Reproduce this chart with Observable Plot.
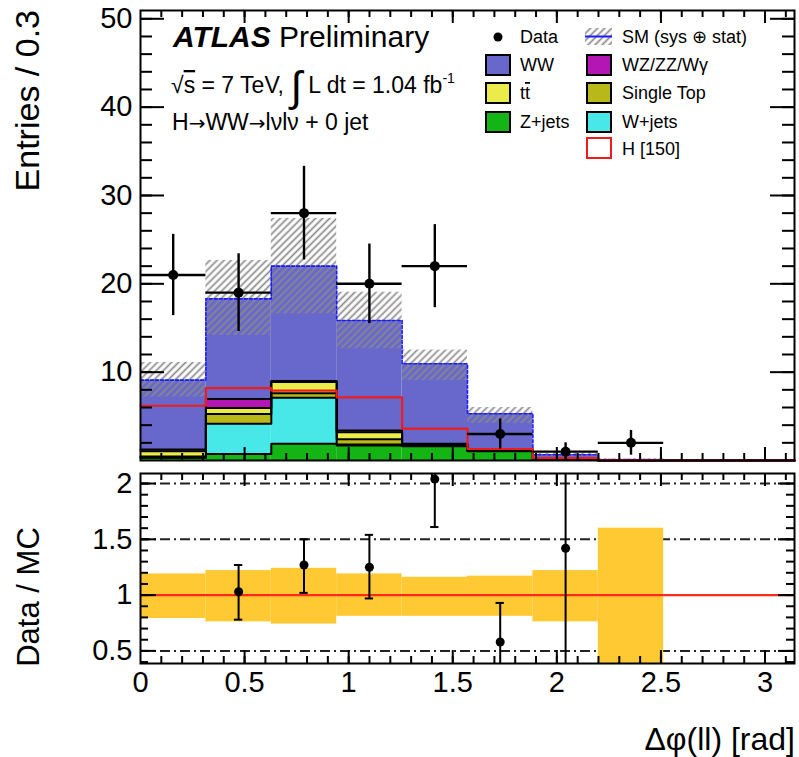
<!DOCTYPE html>
<html><head><meta charset="utf-8">
<script src="https://cdn.jsdelivr.net/npm/d3@7"></script>
<script src="https://cdn.jsdelivr.net/npm/@observablehq/plot@0.6"></script>
<style>
body{margin:0;background:#fff;}
#wrap{position:relative;width:799px;height:757px;overflow:hidden;font-family:"Liberation Sans",Arial,sans-serif;}
#wrap > svg, #wrap > div{position:absolute;left:0;}
</style></head><body><div id="wrap"></div>
<script>
// ---- data ----
const nBins = 10;                        // 10 bins of width pi/10 over [0, pi]
const zjets     = [0.3, 0.75, 1.9, 1.7, 1.6, 1.05, 0.1, 0, 0, 0];
const wjets     = [0.05, 3.4, 5.2, 0.1, 0.05, 0.05, 0, 0, 0, 0];
const singleTop = [0.1, 1.1, 0.5, 0.6, 0.05, 0.05, 0, 0, 0, 0];
const ttbar     = [0.6, 0.7, 1.3, 0.8, 0.1, 0.05, 0, 0, 0, 0];
const diboson   = [0.2, 1.0, 0.1, 0.2, 0.1, 0.05, 0, 0, 0, 0];
const ww        = [7.85, 11.35, 13.0, 12.45, 9.05, 4.05, 0.55, 0.1, 0, 0];
const higgs150  = [6.2, 8.2, 7.9, 7.15, 3.6, 1.3, 0.26, 0.02, 0, 0];
const smLow     = [7.2, 14.15, 16.6, 12.65, 9.05, 4.2, 0.45, 0.04, 0, 0];
const smHigh    = [11.1, 22.65, 27.4, 19.05, 12.5, 6.0, 0.85, 0.16, 0, 0];
const dataCounts= [21, 19, 28, 20, 22, 3, 1, 2, 0, 0];
const dataErr   = [4.6, 4.4, 5.3, 4.5, 4.7, 1.7, 1.0, 1.4, 0, 0];
const ratio     = [null, 1.03, 1.27, 1.25, 2.04, 0.58, 1.42, null, null, null];
const ratioLow  = [null, 0.78, 1.02, 0.97, 1.61, 0.25, 0.0, null, null, null];
const ratioHigh = [null, 1.27, 1.50, 1.54, 2.50, 0.93, 2.85, null, null, null];
const bandLow   = [0.79, 0.76, 0.74, 0.81, 0.81, 0.81, 0.76, 0.2, null, null];
const bandHigh  = [1.19, 1.22, 1.24, 1.19, 1.16, 1.17, 1.22, 1.60, null, null];
const procNames = ["Z+jets", "W+jets", "Single Top", "ttbar", "WZ/ZZ/Wγ", "WW"];
const procColors= ["#14b414", "#48e8e8", "#b8b818", "#ebeb4a", "#b316b3", "#6868cc"];
const yTicksTop = [10, 20, 30, 40, 50];
const yTicksRatio = [0.5, 1, 1.5, 2];
const xTicks = [0, 0.5, 1, 1.5, 2, 2.5, 3];

// ---- derived ----
const bw = Math.PI / nBins;
const bins = d3.range(nBins).map(i => ({i, x1: i * bw, x2: (i + 1) * bw, xc: (i + 0.5) * bw}));
const procVals = [zjets, wjets, singleTop, ttbar, diboson, ww];
function stepRows(vals, key) {
  const r = vals.map((v, i) => ({x: bins[i].x1, y: v, key}));
  r.push({x: Math.PI, y: vals[vals.length - 1], key});
  return r;
}
let cum = new Array(nBins).fill(0);
const rectRows = [], outlineRows = [];
let totalRows = [];
procVals.forEach((vals, k) => {
  const prev = cum.slice();
  cum = cum.map((c, i) => c + vals[i]);
  vals.forEach((v, i) => { if (v > 0) rectRows.push({x1: bins[i].x1, x2: bins[i].x2, y1: prev[i], y2: cum[i], color: procColors[k]}); });
  if (procNames[k] !== "WW") outlineRows.push(...stepRows(cum, procNames[k]));
  else totalRows = stepRows(cum, "total");
});
const hatchRows = bins.filter(b => smHigh[b.i] > 0).map(b => ({...b, lo: smLow[b.i], hi: smHigh[b.i]}));
const dataRows = bins.filter(b => dataCounts[b.i] > 0).map(b => ({...b, v: dataCounts[b.i], e: dataErr[b.i]}));
const ratioRows = bins.filter(b => ratio[b.i] != null).map(b => ({...b, v: ratio[b.i], lo: ratioLow[b.i], hi: ratioHigh[b.i]}));
const bandRows = bins.filter(b => bandLow[b.i] != null).map(b => ({...b, lo: bandLow[b.i], hi: bandHigh[b.i]}));

const W = 799, mL = 140, mR = 5;
const innerW = W - mL - mR;
const font = "Liberation Sans, Arial, sans-serif";
const xMinor = d3.range(1, 32).map(i => i / 10);
const xMajor = [0.5, 1, 1.5, 2, 2.5, 3];
const fmt = d => String(d);

function addHatch(svg, id) {
  const defs = d3.select(svg).insert("defs", ":first-child");
  const p = defs.append("pattern").attr("id", id).attr("patternUnits", "userSpaceOnUse")
    .attr("width", 5).attr("height", 5).attr("patternTransform", "rotate(45)");
  p.append("line").attr("x1", 2.5).attr("y1", 0).attr("x2", 2.5).attr("y2", 5)
    .attr("stroke", "#8a8a8a").attr("stroke-width", 1.7);
}

// ---- top panel ----
const topH = 470, topMT = 10, topMB = 10, topInner = topH - topMT - topMB;
const topPlot = Plot.plot({
  width: W, height: topH, marginLeft: mL, marginRight: mR, marginTop: topMT, marginBottom: topMB,
  x: {domain: [0, Math.PI], axis: null},
  y: {domain: [0, 50.94], axis: null, label: null},
  style: {fontFamily: font, background: "transparent", overflow: "visible", color: "black"},
  marks: [
    Plot.rect(rectRows, {x1: "x1", x2: "x2", y1: "y1", y2: "y2", fill: "color"}),
    Plot.line(outlineRows, {x: "x", y: "y", z: "key", curve: "step-after", stroke: "black", strokeWidth: 2}),
    Plot.rect(hatchRows, {x1: "x1", x2: "x2", y1: "lo", y2: "hi", fill: "url(#hatchTop)"}),
    Plot.line(totalRows, {x: "x", y: "y", curve: "step-after", stroke: "#1a1aff", strokeWidth: 1.6, strokeDasharray: "3,2"}),
    Plot.line(stepRows(higgs150, "H"), {x: "x", y: "y", curve: "step-after", stroke: "#ee1c1c", strokeWidth: 2.2}),
    Plot.ruleX(dataRows, {x: "xc", y1: d => d.v - d.e, y2: d => d.v + d.e, stroke: "black", strokeWidth: 2.4, clip: true}),
    Plot.ruleY(dataRows, {y: "v", x1: "x1", x2: "x2", stroke: "black", strokeWidth: 2.4}),
    Plot.dot(dataRows, {x: "xc", y: "v", r: 5, fill: "black"}),
    // ticks (inward, all four sides)
    Plot.ruleY(d3.range(2, 51, 2), {insetRight: innerW - 12, stroke: "black", strokeWidth: 2}),
    Plot.ruleY(yTicksTop, {insetRight: innerW - 24, stroke: "black", strokeWidth: 2}),
    Plot.ruleY(d3.range(2, 51, 2), {insetLeft: innerW - 12, stroke: "black", strokeWidth: 2}),
    Plot.ruleY(yTicksTop, {insetLeft: innerW - 24, stroke: "black", strokeWidth: 2}),
    Plot.ruleX(xMinor, {insetTop: topInner - 7, stroke: "black", strokeWidth: 2}),
    Plot.ruleX(xMajor, {insetTop: topInner - 13, stroke: "black", strokeWidth: 2}),
    Plot.ruleX(xMinor, {insetBottom: topInner - 7, stroke: "black", strokeWidth: 2}),
    Plot.ruleX(xMajor, {insetBottom: topInner - 13, stroke: "black", strokeWidth: 2}),
    Plot.frame({stroke: "black", strokeWidth: 2}),
    Plot.axisY(yTicksTop, {anchor: "left", tickSize: 0, tickPadding: 8, fontSize: 29, label: null, tickFormat: fmt})
  ]
});
addHatch(topPlot, "hatchTop");
topPlot.style.top = "0px";

// ---- ratio panel ----
const rTop = 470, rH = 287, rMT = 3, rMB = 94, rInner = rH - rMT - rMB;
const ratioPlot = Plot.plot({
  width: W, height: rH, marginLeft: mL, marginRight: mR, marginTop: rMT, marginBottom: rMB,
  x: {domain: [0, Math.PI], axis: null},
  y: {domain: [0.387, 2.09], axis: null, label: null},
  style: {fontFamily: font, background: "transparent", overflow: "visible", color: "black"},
  marks: [
    Plot.ruleY([0.5, 1.5, 2], {stroke: "#222", strokeWidth: 2, strokeDasharray: "10,4,2,4"}),
    Plot.rect(bandRows, {x1: "x1", x2: "x2", y1: "lo", y2: "hi", fill: "#ffc933", clip: true}),
    Plot.ruleY([1], {stroke: "#ff2a1a", strokeWidth: 2.2}),
    Plot.ruleX(ratioRows, {x: "xc", y1: "lo", y2: "hi", stroke: "black", strokeWidth: 2, clip: true}),
    Plot.ruleY(ratioRows, {y: "lo", x1: d => d.xc - 0.02, x2: d => d.xc + 0.02, stroke: "black", strokeWidth: 2, clip: true}),
    Plot.ruleY(ratioRows, {y: "hi", x1: d => d.xc - 0.02, x2: d => d.xc + 0.02, stroke: "black", strokeWidth: 2, clip: true}),
    Plot.dot(ratioRows, {x: "xc", y: "v", r: 4.5, fill: "black", clip: true}),
    Plot.ruleY(d3.range(4, 21).map(i => i / 10), {insetRight: innerW - 8, stroke: "black", strokeWidth: 2}),
    Plot.ruleY(yTicksRatio, {insetRight: innerW - 16, stroke: "black", strokeWidth: 2}),
    Plot.ruleY(d3.range(4, 21).map(i => i / 10), {insetLeft: innerW - 8, stroke: "black", strokeWidth: 2}),
    Plot.ruleY(yTicksRatio, {insetLeft: innerW - 16, stroke: "black", strokeWidth: 2}),
    Plot.ruleX(xMinor, {insetTop: rInner - 7, stroke: "black", strokeWidth: 2}),
    Plot.ruleX(xMajor, {insetTop: rInner - 13, stroke: "black", strokeWidth: 2}),
    Plot.ruleX(xMinor, {insetBottom: rInner - 7, stroke: "black", strokeWidth: 2}),
    Plot.ruleX(xMajor, {insetBottom: rInner - 13, stroke: "black", strokeWidth: 2}),
    Plot.frame({stroke: "black", strokeWidth: 2}),
    Plot.axisY(yTicksRatio, {anchor: "left", tickSize: 0, tickPadding: 8, fontSize: 29, label: null, tickFormat: fmt}),
    Plot.axisX(xTicks, {anchor: "bottom", tickSize: 0, tickPadding: 8, fontSize: 29, label: null, tickFormat: fmt})
  ]
});
ratioPlot.style.top = rTop + "px";

const wrap = document.getElementById("wrap");
wrap.appendChild(topPlot);
wrap.appendChild(ratioPlot);

// ---- overlay: titles, labels, legend ----
const arrow = `<tspan font-family="DejaVu Sans" font-size="20">→</tspan>`;
const ov = `
<svg width="799" height="757" style="position:absolute;left:0;top:0;pointer-events:none;font-family:${font}">
<defs><pattern id="hatchLeg" patternUnits="userSpaceOnUse" width="5" height="5" patternTransform="rotate(45)">
<line x1="2.5" y1="0" x2="2.5" y2="5" stroke="#8a8a8a" stroke-width="1.7"/></pattern></defs>
<text transform="translate(39,10) rotate(-90)" text-anchor="end" font-size="34">Entries / 0.3</text>
<text transform="translate(39,597) rotate(-90)" text-anchor="middle" font-size="31">Data / MC</text>
<text x="795" y="750" text-anchor="end" font-size="32">Δφ(ll) [rad]</text>
<text x="173" y="47" font-size="30"><tspan font-weight="bold" font-style="italic">ATLAS</tspan> Preliminary</text>
<text x="171" y="93" font-size="23">√<tspan style="text-decoration:overline">s</tspan> = 7 TeV, <tspan font-size="42" dy="8" font-weight="300">∫</tspan><tspan dy="-8"> L dt = 1.04 fb</tspan><tspan font-size="14" dy="-10">-1</tspan></text>
<text x="172" y="130" font-size="23">H${arrow}WW${arrow}lνlν + 0 jet</text>
<g font-size="18">
<circle cx="498" cy="37" r="4.5" fill="black"/><text x="520" y="43">Data</text>
<rect x="486" y="55" width="24" height="20" fill="${procColors[5]}" stroke="black" stroke-width="2"/><text x="520" y="71">WW</text>
<rect x="486" y="83" width="24" height="20" fill="${procColors[3]}" stroke="black" stroke-width="2"/><text x="520" y="99">t<tspan style="text-decoration:overline">t</tspan></text>
<rect x="486" y="112" width="24" height="20" fill="${procColors[0]}" stroke="black" stroke-width="2"/><text x="520" y="128">Z+jets</text>
<rect x="585" y="28" width="27" height="17" fill="url(#hatchLeg)"/><line x1="585" y1="36.5" x2="612" y2="36.5" stroke="#1a1aff" stroke-width="2"/><text x="622" y="43">SM (sys ⊕ stat)</text>
<rect x="587" y="55" width="24" height="20" fill="${procColors[4]}" stroke="black" stroke-width="2"/><text x="622" y="71">WZ/ZZ/Wγ</text>
<rect x="587" y="83" width="24" height="20" fill="${procColors[2]}" stroke="black" stroke-width="2"/><text x="622" y="99">Single Top</text>
<rect x="587" y="112" width="24" height="20" fill="${procColors[1]}" stroke="black" stroke-width="2"/><text x="622" y="128">W+jets</text>
<rect x="587" y="138" width="24" height="20" fill="white" stroke="#ee1c1c" stroke-width="2"/><text x="622" y="155">H [150]</text>
</g>
</svg>`;
wrap.insertAdjacentHTML("beforeend", ov);
</script></body></html>
